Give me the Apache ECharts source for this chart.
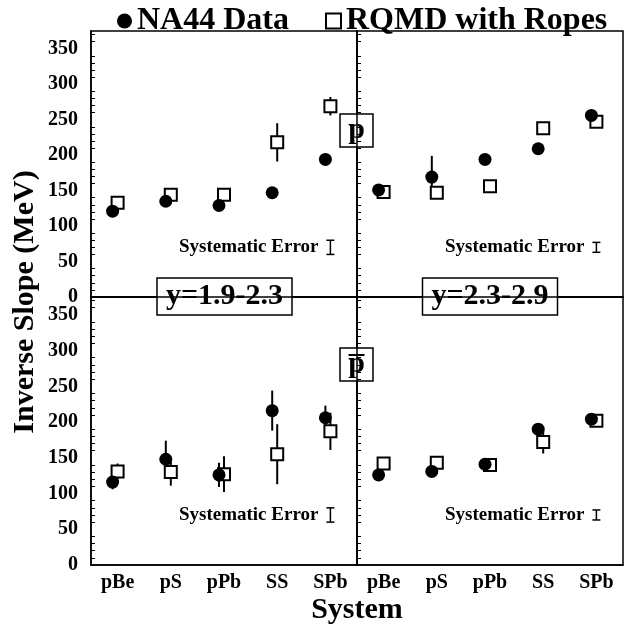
<!DOCTYPE html>
<html>
<head>
<meta charset="utf-8">
<title>Inverse Slope vs System</title>
<script src="https://cdn.jsdelivr.net/npm/echarts@6/dist/echarts.min.js"></script>
<style>
  html, body { margin: 0; padding: 0; background: #fff; }
  #chart { width: 636px; height: 633px; }
</style>
</head>
<body>
<div id="chart"></div>
<script>
// x categories
const systems = ['pBe', 'pS', 'pPb', 'SS', 'SPb'];

// protons, y=1.9-2.3
const pLowData = [121, 135, 129, 147, 194];
const pLowDataErr = [4, 4, 4, 4, 4];
const pLowRqmd = [133, 144, 144, 218, 269];
const pLowRqmdErr = [4, 4, 4, 27, 13];

// protons, y=2.3-2.9
const pHighData = [151, 169, 194, 209, 256];
const pHighDataErr = [4, 30, 4, 4, 4];
const pHighRqmd = [148, 147, 156, 238, 247];
const pHighRqmdErr = [4, 4, 4, 4, 4];

// antiprotons, y=1.9-2.3
const pbarLowData = [116, 148, 126, 216, 206];
const pbarLowDataErr = [10, 26, 17, 28, 17];
const pbarLowRqmd = [131, 130, 127, 155, 187];
const pbarLowRqmdErr = [11, 19, 25, 42, 26];

// antiprotons, y=2.3-2.9
const pbarHighData = [126, 131, 141, 190, 204];
const pbarHighDataErr = [4, 4, 4, 4, 4];
const pbarHighRqmd = [142, 143, 140, 172, 202];
const pbarHighRqmdErr = [4, 4, 4, 16, 4];

// systematic error marker, one per panel (TL, TR, BL, BR)
const sysValue = [70, 70, 70, 70];
const sysErr = [10, 7, 10, 7];

const FONT = '"Liberation Serif", "Times New Roman", serif';

const panels = [
  { data: pLowData, dataErr: pLowDataErr, rqmd: pLowRqmd, rqmdErr: pLowRqmdErr, left: 91, top: 31, height: 266, yLab: true, xLab: false },
  { data: pHighData, dataErr: pHighDataErr, rqmd: pHighRqmd, rqmdErr: pHighRqmdErr, left: 357, top: 31, height: 266, yLab: false, xLab: false },
  { data: pbarLowData, dataErr: pbarLowDataErr, rqmd: pbarLowRqmd, rqmdErr: pbarLowRqmdErr, left: 91, top: 297, height: 268, yLab: true, xLab: true },
  { data: pbarHighData, dataErr: pbarHighDataErr, rqmd: pbarHighRqmd, rqmdErr: pbarHighRqmdErr, left: 357, top: 297, height: 268, yLab: false, xLab: true }
];

const DATA_SHIFT = -5; // NA44 points sit a little left of the model points

function errorBar(shift) {
  return function (params, api) {
    const i = api.value(0), v = api.value(1), e = api.value(2);
    const hi = api.coord([i, v + e]);
    const lo = api.coord([i, v - e]);
    return {
      type: 'line',
      shape: { x1: hi[0] + shift, y1: hi[1], x2: lo[0] + shift, y2: lo[1] },
      style: { stroke: '#000', lineWidth: 2 }
    };
  };
}

function sysMarker(params, api) {
  const i = api.value(0), v = api.value(1), e = api.value(2);
  const hi = api.coord([i, v + e]);
  const lo = api.coord([i, v - e]);
  const mid = api.coord([i, v]);
  const cap = 4;
  return {
    type: 'group',
    children: [
      { type: 'line', shape: { x1: hi[0], y1: hi[1], x2: lo[0], y2: lo[1] }, style: { stroke: '#000', lineWidth: 1.5 } },
      { type: 'line', shape: { x1: hi[0] - cap, y1: hi[1], x2: hi[0] + cap, y2: hi[1] }, style: { stroke: '#000', lineWidth: 1.5 } },
      { type: 'line', shape: { x1: lo[0] - cap, y1: lo[1], x2: lo[0] + cap, y2: lo[1] }, style: { stroke: '#000', lineWidth: 1.5 } },
      { type: 'text', style: { text: 'Systematic Error', x: mid[0] - 12, y: mid[1], align: 'right', verticalAlign: 'middle', font: 'bold 19px ' + FONT, fill: '#000' } }
    ]
  };
}

const grid = [], xAxis = [], yAxis = [], series = [];

panels.forEach((p, k) => {
  grid.push({ left: p.left, top: p.top, width: 266, height: p.height, show: true, borderColor: '#000', borderWidth: 1.5, backgroundColor: 'transparent' });
  xAxis.push({
    type: 'category', gridIndex: k, data: systems, boundaryGap: true,
    axisLine: { lineStyle: { color: '#000', width: 1.5 } },
    axisTick: { inside: true, length: 8, lineStyle: { color: '#000', width: 1.5 } },
    axisLabel: { show: p.xLab, color: '#000', fontFamily: FONT, fontWeight: 'bold', fontSize: 20, margin: 8 },
    splitLine: { show: false }
  });
  yAxis.push({
    type: 'value', gridIndex: k, min: 0, max: 375, interval: 50,
    axisLine: { show: true, lineStyle: { color: '#000', width: 1.5 } },
    axisTick: { inside: true, length: 8, lineStyle: { color: '#000', width: 1.5 } },
    minorTick: { show: true, splitNumber: 5, length: 4, lineStyle: { color: '#000', width: 1 } },
    axisLabel: { show: p.yLab, showMaxLabel: false, color: '#000', fontFamily: FONT, fontWeight: 'bold', fontSize: 20, margin: 13 },
    splitLine: { show: false }
  });

  // error bars
  series.push({
    type: 'custom', xAxisIndex: k, yAxisIndex: k, z: 2, silent: true,
    renderItem: errorBar(0),
    data: systems.map((s, i) => [i, p.rqmd[i], p.rqmdErr[i]])
  });
  series.push({
    type: 'custom', xAxisIndex: k, yAxisIndex: k, z: 2, silent: true,
    renderItem: errorBar(DATA_SHIFT),
    data: systems.map((s, i) => [i, p.data[i], p.dataErr[i]])
  });
  // RQMD squares
  series.push({
    name: 'RQMD with Ropes', type: 'scatter', xAxisIndex: k, yAxisIndex: k, z: 3,
    symbol: 'rect', symbolSize: 12,
    itemStyle: { color: '#fff', borderColor: '#000', borderWidth: 2, opacity: 1 },
    data: systems.map((s, i) => [i, p.rqmd[i]])
  });
  // NA44 circles
  series.push({
    name: 'NA44 Data', type: 'scatter', xAxisIndex: k, yAxisIndex: k, z: 4,
    symbol: 'circle', symbolSize: 13, symbolOffset: [DATA_SHIFT, 0],
    itemStyle: { color: '#000', opacity: 1 },
    data: systems.map((s, i) => [i, p.data[i]])
  });
  // systematic error marker
  series.push({
    type: 'custom', xAxisIndex: k, yAxisIndex: k, z: 2, silent: true,
    renderItem: sysMarker,
    data: [[systems.length - 1, sysValue[k], sysErr[k]]]
  });
});

function boxLabel(text, cx, cy, w, h, size, bar) {
  const children = [
    { type: 'rect', shape: { x: -w / 2, y: -h / 2, width: w, height: h }, style: { fill: '#fff', stroke: '#000', lineWidth: 1.5 } },
    { type: 'text', style: { text: text, x: 0, y: 0, align: 'center', verticalAlign: 'middle', font: 'bold ' + size + 'px ' + FONT, fill: '#000' } }
  ];
  if (bar) {
    children.push({ type: 'line', shape: { x1: -8, y1: -h / 2 + 7, x2: 8, y2: -h / 2 + 7 }, style: { stroke: '#000', lineWidth: 2 } });
  }
  return { type: 'group', x: cx, y: cy, z: 100, children: children };
}

const chart = echarts.init(document.getElementById('chart'));
chart.setOption({
  backgroundColor: '#fff',
  animation: false,
  legend: {
    top: 0, left: 112, itemGap: 36, itemWidth: 15, itemHeight: 15,
    textStyle: { color: '#000', fontFamily: FONT, fontWeight: 'bold', fontSize: 32 },
    data: [{ name: 'NA44 Data', icon: 'circle' }, { name: 'RQMD with Ropes', icon: 'rect' }]
  },
  grid: grid,
  xAxis: xAxis,
  yAxis: yAxis,
  series: series,
  graphic: [
    boxLabel('p', 356.5, 130.5, 33, 33, 30, false),
    boxLabel('p', 356.5, 364.5, 33, 33, 30, true),
    boxLabel('y=1.9-2.3', 224.5, 296.5, 135, 37, 30, false),
    boxLabel('y=2.3-2.9', 490, 296.5, 135, 37, 30, false),
    { type: 'text', x: 25, y: 302, rotation: Math.PI / 2, z: 100,
      style: { text: 'Inverse Slope (MeV)', align: 'center', verticalAlign: 'middle', font: 'bold 30px ' + FONT, fill: '#000' } },
    { type: 'text', x: 357, y: 610, z: 100,
      style: { text: 'System', align: 'center', verticalAlign: 'middle', font: 'bold 30px ' + FONT, fill: '#000' } }
  ]
});
</script>
</body>
</html>
